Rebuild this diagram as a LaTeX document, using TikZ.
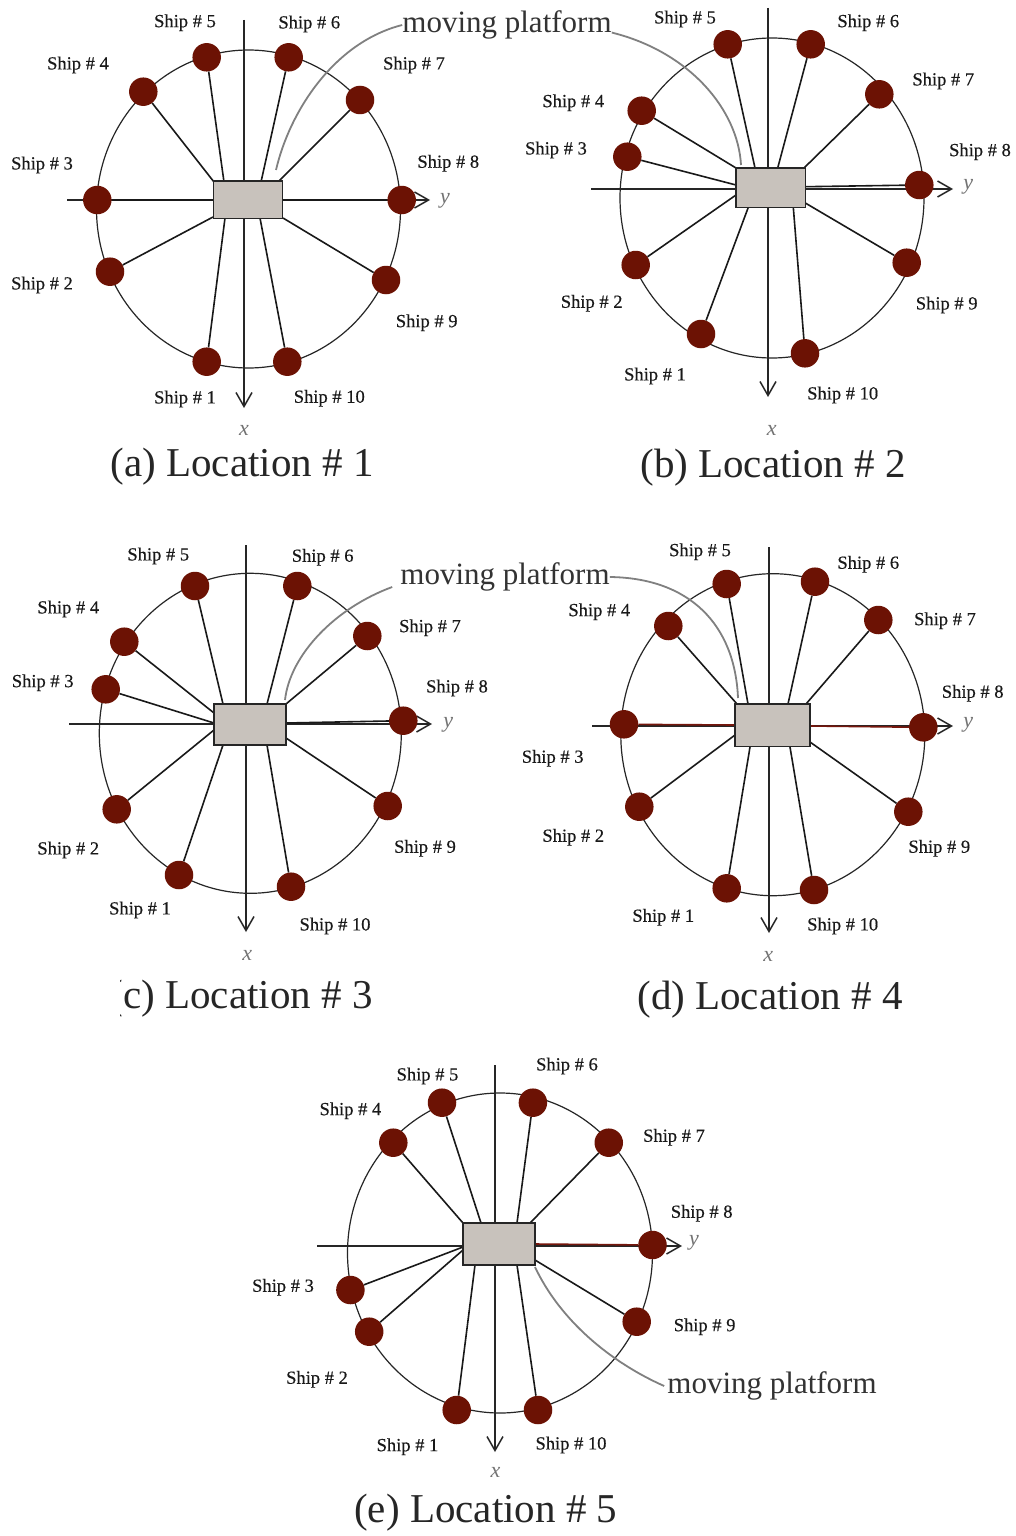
\documentclass[tikz,border=0pt]{standalone}
\usepackage{fontspec}
\setmainfont{Liberation Serif}
\newfontfamily\shipfont[FakeBold=0.35]{Liberation Serif}
\usetikzlibrary{arrows.meta}

\definecolor{shipred}{RGB}{108,18,4}
\definecolor{platgray}{RGB}{200,194,188}
\definecolor{leadgray}{RGB}{128,128,128}
\definecolor{tiered}{RGB}{118,22,12}

\tikzset{
  ship/.style={circle, fill=shipred, inner sep=0pt, minimum size=28.5pt},
  platform/.style={draw=black!85, line width=1.4pt, fill=platgray, inner sep=0pt},
  ring/.style={draw=black!85, line width=1.2pt},
  spoke/.style={draw=black!90, line width=1.6pt},
  redspoke/.style={draw=tiered, line width=1.6pt},
  axisline/.style={draw=black!85, line width=1.5pt,
    -{Straight Barb[length=14pt,width=16pt,line width=1.5pt]}},
  shiplabel/.style={font=\shipfont\fontsize{18.5}{20}\selectfont, text=black!90, inner sep=0pt},
  axislabel/.style={font=\fontsize{22}{24}\selectfont\itshape, text=black!55, inner sep=0pt},
  caption/.style={font=\fontsize{41}{44}\selectfont, text=black!85, inner sep=0pt},
  leadlabel/.style={font=\fontsize{31}{33}\selectfont, text=black!80, inner sep=0pt},
  callout/.style={draw=leadgray, line width=1.8pt},
}

\begin{document}
\begin{tikzpicture}[x=1pt, y=-1pt]
\useasboundingbox[fill=white] (0,0) rectangle (1015,1536);

% ---------------- (a) Location # 1 ----------------
\draw[ring] (248.5,209) ellipse [x radius=152pt, y radius=159pt];
\draw[axisline] (244,20) -- (244,408);
\draw[axisline] (67,200) -- (430,200);
\foreach \s/\px/\py in {1/206.7/361.7, 2/110/271.7, 3/97.3/200, 4/143.3/91.7,
    5/206.7/57.3, 6/288.7/57.3, 7/360/100, 8/401.7/200, 9/386/280, 10/287.3/361.7}
  \node[ship] (a-s\s) at (\px,\py) {};
\foreach \s/\tx/\ty in {1/225/218, 2/213/217, 3/213/200, 4/214/182, 5/224/182,
    6/261/182, 7/278/182, 8/283/200, 9/283/218, 10/260/218} {
  \coordinate (a-d\s) at (\tx,\ty);
  \draw[spoke] (a-s\s) -- (a-d\s);
}
\node[platform, minimum width=69.4pt, minimum height=37.3pt] (a-p) at (248,199.7) {};
\foreach \s/\lx/\ly in {1/185/399, 2/42/285, 3/42/165, 4/78/65, 5/185/22.7,
    6/309.3/24, 7/414/65, 8/448.3/163.3, 9/426.7/322.7, 10/329.3/398.3}
  \node[shiplabel] (a-l\s) at (\lx,\ly) {Ship \# \s};
\node[axislabel] (a-y) at (445,201) {y};
\node[axislabel] (a-x) at (244,430) {x};
\node[caption] (a-cap) at (242,467) {(a) Location \# 1};

% label shared by panels (a) and (b)
\node[leadlabel] (mp1) at (507,25) {moving platform};
\coordinate (a-lead) at (276,170);
\draw[callout] (mp1.west) .. controls (335,42) and (290,110) .. (a-lead);

% ---------------- (b) Location # 2 ----------------
\draw[ring] (772,198) ellipse [x radius=152pt, y radius=160pt];
\draw[axisline] (768,8) -- (768,397);
\draw[axisline] (591,189) -- (953,189);
\foreach \s/\px/\py in {1/701/334, 2/635.7/265, 3/627.3/156.7, 4/641.7/110.7,
    5/727.7/44.3, 6/810.7/44.3, 7/879.3/94.3, 8/919.3/185, 9/906.7/262.7, 10/805/353.3}
  \node[ship] (b-s\s) at (\px,\py) {};
\foreach \s/\tx/\ty in {1/748.3/207.3, 2/736/195, 3/736/185, 4/736/168, 5/755/168,
    6/777.7/168, 7/804/168, 8/805.3/186.7, 9/805.3/203, 10/793.3/207.3} {
  \coordinate (b-d\s) at (\tx,\ty);
  \draw[spoke] (b-s\s) -- (b-d\s);
}
\node[platform, minimum width=69.3pt, minimum height=39.3pt] (b-p) at (770.7,187.7) {};
\foreach \s/\lx/\ly in {1/655/376, 2/591.7/303.3, 3/556/150, 4/573.3/102.7, 5/685/19,
    6/868.3/22.7, 7/943.3/81, 8/980/151.7, 9/946.7/305, 10/842.7/395}
  \node[shiplabel] (b-l\s) at (\lx,\ly) {Ship \# \s};
\node[axislabel] (b-y) at (968.3,187) {y};
\node[axislabel] (b-x) at (771.7,430) {x};
\node[caption] (b-cap) at (773,468) {(b) Location \# 2};
\coordinate (b-lead) at (741,165);
\draw[callout] (mp1.base east) .. controls (690,52) and (738,110) .. (b-lead);

% ---------------- (c) Location # 3 ----------------
\draw[ring] (250.3,733.3) ellipse [x radius=151pt, y radius=160pt];
\draw[axisline] (246,545) -- (246,932);
\draw[axisline] (69,724) -- (432,724);
\foreach \s/\px/\py in {1/179/875, 2/116.7/809.3, 3/105.7/689.3, 4/124.3/641.7,
    5/195/586, 6/297.3/586, 7/367.3/636, 8/403.3/720.7, 9/387.7/806, 10/291/886.7}
  \node[ship] (c-s\s) at (\px,\py) {};
\foreach \s/\tx/\ty in {1/223/745, 2/214/730, 3/214/723, 4/214/713, 5/223/704,
    6/267/704, 7/286/704, 8/286/723, 9/286/738, 10/267/745} {
  \coordinate (c-d\s) at (\tx,\ty);
  \draw[spoke] (c-s\s) -- (c-d\s);
}
\node[platform, minimum width=72pt, minimum height=41pt] (c-p) at (250,724.5) {};
\foreach \s/\lx/\ly in {1/140/910, 2/68.3/850, 3/42.7/682.7, 4/68.3/609, 5/158.3/556,
    6/322.7/557.3, 7/430/627.7, 8/457/688, 9/425/848.3, 10/335/926}
  \node[shiplabel] (c-l\s) at (\lx,\ly) {Ship \# \s};
\node[axislabel] (c-y) at (448.3,725) {y};
\node[axislabel] (c-x) at (247.3,955) {x};
\begin{scope}
  \clip (120,960) rectangle (420,1040);
  \node[caption] (c-cap) at (241,999) {(c) Location \# 3};
\end{scope}

% label shared by panels (c) and (d)
\node[leadlabel] (mp3) at (505,577) {moving platform};
\coordinate (c-lead) at (285,700);
\draw[callout] ([shift={(-8,10)}]mp3.west) .. controls (335,608) and (290,655) .. (c-lead);

% ---------------- (d) Location # 4 ----------------
\draw[ring] (772.8,734.7) ellipse [x radius=152pt, y radius=161pt];
\draw[axisline] (769,547) -- (769,933);
\draw[axisline] (592,726) -- (953,726);
\foreach \s/\px/\py in {1/726.7/888.3, 2/639.3/806.7, 3/624/724.3, 4/668.3/626,
    5/726.7/584, 6/815/581.7, 7/878.3/620, 8/923.3/727.3, 9/908.3/811.7, 10/814/890}
  \node[ship] (d-s\s) at (\px,\py) {};
\foreach \s/\tx/\ty in {1/750/747, 2/735/735, 4/737/704, 5/748/704,
    6/788/704, 7/806/704, 9/810/742, 10/790/747} {
  \coordinate (d-d\s) at (\tx,\ty);
  \draw[spoke] (d-s\s) -- (d-d\s);
}
\coordinate (d-d3) at (735,725);
\coordinate (d-d8) at (810,726);
\draw[redspoke] (d-s3) -- (d-d3);
\draw[redspoke] (d-s8) -- (d-d8);
\node[platform, minimum width=75pt, minimum height=42.7pt] (d-p) at (772.5,725.3) {};
\foreach \s/\lx/\ly in {1/663.3/917.3, 2/573.3/837.3, 3/552.7/758.3, 4/599.3/611.7,
    5/700/551.7, 6/868.3/564.3, 7/945/620.7, 8/972.7/693.3, 9/939.3/848.3, 10/842.7/926}
  \node[shiplabel] (d-l\s) at (\lx,\ly) {Ship \# \s};
\node[axislabel] (d-y) at (968.3,725) {y};
\node[axislabel] (d-x) at (768.3,956) {x};
\node[caption] (d-cap) at (770,1000) {(d) Location \# 4};
\coordinate (d-lead) at (738,698);
\draw[callout] (mp3.east) .. controls (690,578) and (735,625) .. (d-lead);

% ---------------- (e) Location # 5 ----------------
\draw[ring] (500,1253) ellipse [x radius=152.5pt, y radius=160pt];
\draw[axisline] (495,1065) -- (495,1452);
\draw[axisline] (317,1246) -- (682,1246);
\foreach \s/\px/\py in {1/456.7/1410, 2/369.2/1331.7, 3/350.4/1290, 4/393.3/1142.7,
    5/442/1102.7, 6/532.9/1102.7, 7/608.75/1142.7, 8/652.5/1245, 9/636.7/1321.7, 10/538/1410}
  \node[ship] (e-s\s) at (\px,\py) {};
\foreach \s/\tx/\ty in {1/475/1265, 2/463/1250, 3/463/1247, 4/463/1223, 5/481/1223,
    6/517/1223, 7/530/1223, 9/535/1260, 10/517/1265} {
  \coordinate (e-d\s) at (\tx,\ty);
  \draw[spoke] (e-s\s) -- (e-d\s);
}
\coordinate (e-d8) at (535,1244);
\draw[redspoke] (e-s8) -- (e-d8);
\node[platform, minimum width=72pt, minimum height=41.7pt] (e-p) at (499,1244) {};
\foreach \s/\lx/\ly in {1/407.5/1446.7, 2/317/1379.3, 3/283/1287.3, 4/350.4/1110.7,
    5/427.5/1076, 6/567/1066, 7/674/1137.3, 8/701.7/1213.3, 9/704.6/1326.7, 10/571/1445}
  \node[shiplabel] (e-l\s) at (\lx,\ly) {Ship \# \s};
\node[axislabel] (e-y) at (694,1243) {y};
\node[axislabel] (e-x) at (495.4,1472) {x};
\node[caption] (e-cap) at (485.8,1513) {(e) Location \# 5};
\node[leadlabel] (mp5) at (772,1386) {moving platform};
\coordinate (e-lead) at (535,1267);
\draw[callout] (e-lead) .. controls (560,1320) and (610,1362) .. ([xshift=-3pt]mp5.west);

\end{tikzpicture}
\end{document}
